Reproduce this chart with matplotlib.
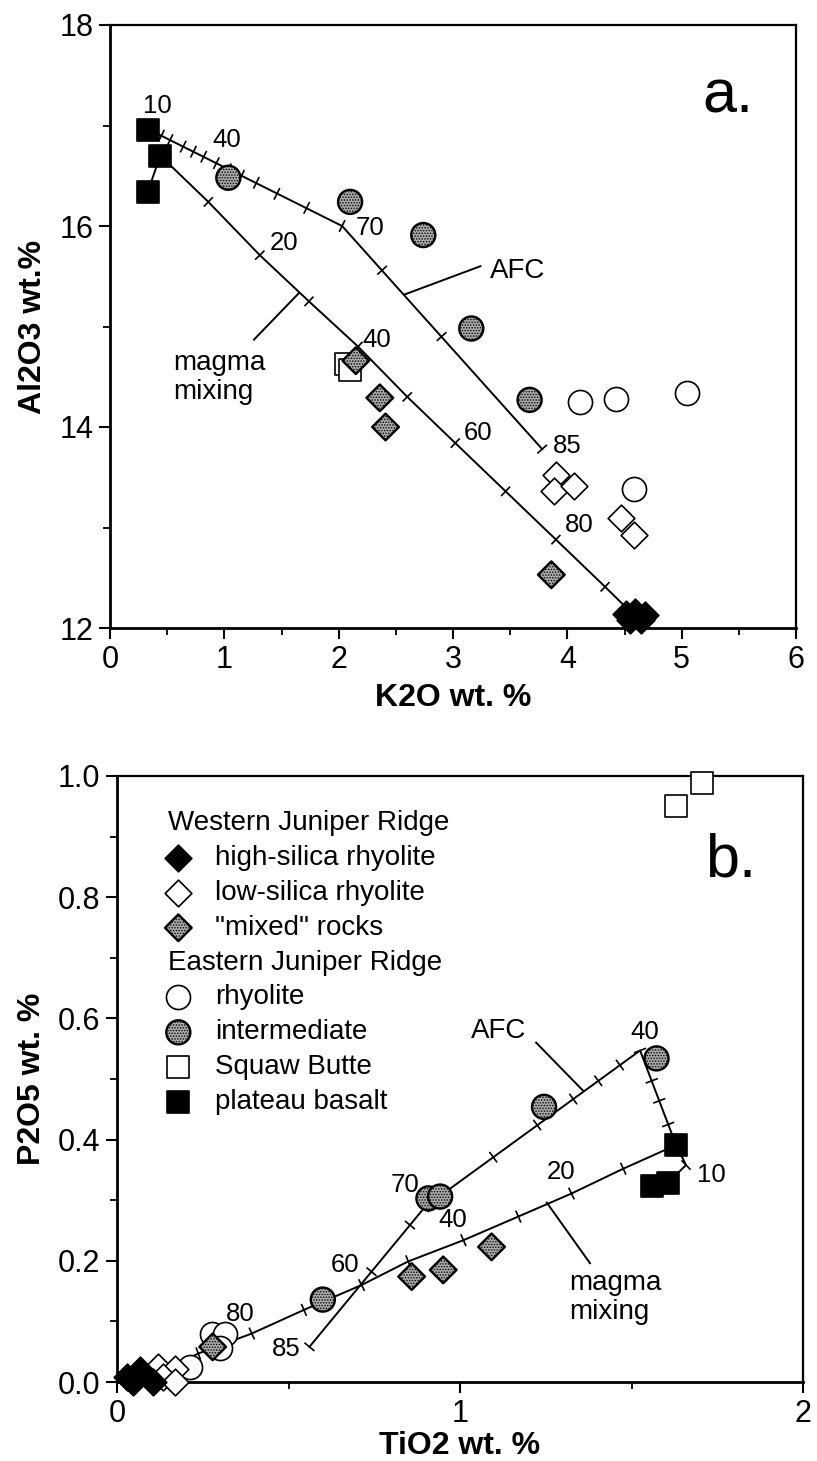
import matplotlib
matplotlib.use("Agg")
import matplotlib.pyplot as plt
import numpy as np
from matplotlib.ticker import MultipleLocator

plt.rcParams['font.family'] = ['Liberation Sans', 'DejaVu Sans']
plt.rcParams['hatch.color'] = 'black'
plt.rcParams['hatch.linewidth'] = 0.7

# ---------------- Panel a: K2O vs Al2O3 ----------------
hsr_k2o = [4.51, 4.59, 4.68, 4.55, 4.64]
hsr_al = [12.14, 12.16, 12.13, 12.08, 12.08]
lsr_k2o = [3.90, 3.88, 4.06, 4.47, 4.58]
lsr_al = [13.52, 13.36, 13.41, 13.09, 12.93]
mixed_k2o = [2.15, 2.36, 2.41, 3.86]
mixed_al = [14.66, 14.29, 14.00, 12.53]
rhy_k2o = [4.11, 4.43, 5.05, 4.58]
rhy_al = [14.25, 14.28, 14.34, 13.38]
int_k2o = [1.035, 2.10, 2.74, 3.16, 3.67]
int_al = [16.48, 16.24, 15.91, 14.98, 14.27]
sb_k2o = [2.06, 2.10]
sb_al = [14.63, 14.57]
bas_k2o = [0.335, 0.44, 0.33]
bas_al = [16.96, 16.70, 16.34]

# AFC model path and its increment marks
afc_a_k2o = [0.34, 2.03, 3.78]
afc_a_al = [16.96, 16.00, 13.78]
afc_a_tick_k2o = [0.45, 0.525, 0.64, 0.73, 0.82, 0.93, 1.035, 1.15, 1.28, 1.46, 1.72, 2.03, 2.38, 2.90, 3.78]
afc_a_tick_al = [16.90, 16.855, 16.79, 16.74, 16.69, 16.625, 16.565, 16.50, 16.43, 16.32, 16.18, 16.00, 15.56, 14.90, 13.78]
# magma mixing path (basalt -> high-silica rhyolite), marks every 10 %
mix_a_k2o = [0.44, 0.86, 1.31, 1.74, 2.17, 2.60, 3.02, 3.46, 3.90, 4.33, 4.50]
mix_a_al = [16.70, 16.24, 15.71, 15.25, 14.80, 14.30, 13.84, 13.36, 12.88, 12.41, 12.22]
link_a_k2o = [0.33, 0.44]
link_a_al = [16.34, 16.70]

afc_a_labels = ['10', '40', '70', '85']
afc_a_label_k2o = [0.41, 1.02, 2.27, 4.00]
afc_a_label_al = [17.19, 16.86, 15.98, 13.81]
mix_a_labels = ['20', '40', '60', '80']
mix_a_label_k2o = [1.52, 2.33, 3.22, 4.10]
mix_a_label_al = [15.83, 14.87, 13.94, 13.02]

# ---------------- Panel b: TiO2 vs P2O5 ----------------
hsr_ti = [0.028, 0.067, 0.047, 0.106]
hsr_p = [0.009, 0.020, 0.0, 0.0]
lsr_ti = [0.120, 0.169, 0.135, 0.169]
lsr_p = [0.025, 0.021, 0.008, 0.0]
mixed_ti = [0.279, 0.859, 0.951, 1.092]
mixed_p = [0.058, 0.174, 0.185, 0.223]
rhy_ti = [0.276, 0.315, 0.300, 0.213]
rhy_p = [0.080, 0.080, 0.056, 0.025]
int_ti = [1.573, 1.245, 0.908, 0.942, 0.600]
int_p = [0.534, 0.454, 0.303, 0.306, 0.136]
sb_ti = [1.629, 1.706]
sb_p = [0.950, 0.989]
bas_ti = [1.630, 1.559, 1.605]
bas_p = [0.391, 0.324, 0.328]

afc_b_ti = [1.605, 1.659, 1.630, 1.525, 0.898, 0.561]
afc_b_p = [0.328, 0.358, 0.391, 0.547, 0.289, 0.058]
afc_b_tick_ti = [1.659, 1.607, 1.581, 1.559, 1.525, 1.466, 1.403, 1.330, 1.225, 1.097, 0.898, 0.854, 0.742, 0.561]
afc_b_tick_p = [0.358, 0.425, 0.464, 0.497, 0.547, 0.523, 0.497, 0.467, 0.424, 0.371, 0.289, 0.259, 0.182, 0.058]
mix_b_ti = [1.630, 1.476, 1.325, 1.170, 1.010, 0.849, 0.713, 0.545, 0.393, 0.237, 0.100]
mix_b_p = [0.391, 0.352, 0.311, 0.273, 0.234, 0.199, 0.160, 0.119, 0.080, 0.047, 0.010]

afc_b_labels = ['10', '40', '70', '85']
afc_b_label_ti = [1.734, 1.539, 0.840, 0.492]
afc_b_label_p = [0.342, 0.578, 0.325, 0.054]
mix_b_labels = ['20', '40', '60', '80']
mix_b_label_ti = [1.296, 0.980, 0.665, 0.359]
mix_b_label_p = [0.347, 0.268, 0.193, 0.113]

STIPPLE = '#ababab'
STYLES = {
    'hsr': dict(marker='D', s=185, facecolor='black', edgecolor='black', linewidths=1.2),
    'lsr': dict(marker='D', s=185, facecolor='white', edgecolor='black', linewidths=1.2),
    'mixed': dict(marker='D', s=185, facecolor=STIPPLE, edgecolor='black', linewidths=1.7, hatch='......'),
    'rhy': dict(marker='o', s=300, facecolor='white', edgecolor='black', linewidths=1.2),
    'int': dict(marker='o', s=300, facecolor=STIPPLE, edgecolor='black', linewidths=1.7, hatch='......'),
    'sb': dict(marker='s', s=235, facecolor='white', edgecolor='black', linewidths=1.2),
    'bas': dict(marker='s', s=235, facecolor='black', edgecolor='black', linewidths=1.2),
}

NUM_FS = 18.5
TEXT_FS = 20
TICK_FS = 22
LABEL_FS = 23


def mark_curve(ax, cx, cy, tx, ty, half=6.5):
    """Short cross-marks perpendicular to a model path."""
    T = ax.transData
    inv = T.inverted()
    pts = T.transform(np.column_stack([cx, cy]))
    for x, y in zip(tx, ty):
        p = T.transform((x, y))
        best = None
        for a, b in zip(pts[:-1], pts[1:]):
            d = b - a
            t = np.clip(np.dot(p - a, d) / np.dot(d, d), 0, 1)
            dist = np.linalg.norm(a + t * d - p)
            if best is None or dist < best[0]:
                best = (dist, d)
        d = best[1] / np.linalg.norm(best[1])
        n = np.array([-d[1], d[0]])
        ends = inv.transform(np.vstack([p - n * half, p + n * half]))
        ax.plot(ends[:, 0], ends[:, 1], color='black', lw=1.2,
                solid_capstyle='butt', zorder=2)


def style_axes(ax):
    for side in ['left', 'bottom']:
        ax.spines[side].set_linewidth(2.0)
    for side in ['top', 'right']:
        ax.spines[side].set_linewidth(1.6)
    ax.tick_params(which='major', direction='out', length=8, width=1.5,
                   labelsize=TICK_FS, pad=4, top=False, right=False)
    ax.tick_params(which='minor', direction='out', length=5, width=1.3,
                   top=False, right=False)


fig = plt.figure(figsize=(8.17, 14.61), dpi=100)
ax_a = fig.add_axes([110 / 817, 833 / 1461, 686 / 817, 603 / 1461])
ax_b = fig.add_axes([117 / 817, 79 / 1461, 686 / 817, 606 / 1461])

# ---- panel a ----
ax_a.set_xlim(0, 6)
ax_a.set_ylim(12, 18)
ax_a.xaxis.set_major_locator(MultipleLocator(1))
ax_a.xaxis.set_minor_locator(MultipleLocator(0.5))
ax_a.yaxis.set_major_locator(MultipleLocator(2))
ax_a.yaxis.set_minor_locator(MultipleLocator(1))
style_axes(ax_a)

ax_a.plot(afc_a_k2o, afc_a_al, color='black', lw=1.4, zorder=2)
ax_a.plot(mix_a_k2o, mix_a_al, color='black', lw=1.4, zorder=2)
ax_a.plot(link_a_k2o, link_a_al, color='black', lw=1.4, zorder=2)
mark_curve(ax_a, afc_a_k2o, afc_a_al, afc_a_tick_k2o, afc_a_tick_al)
mark_curve(ax_a, mix_a_k2o, mix_a_al, mix_a_k2o[1:-1], mix_a_al[1:-1])

for key, xs, ys in [('sb', sb_k2o, sb_al), ('lsr', lsr_k2o, lsr_al),
                    ('rhy', rhy_k2o, rhy_al), ('int', int_k2o, int_al),
                    ('mixed', mixed_k2o, mixed_al), ('bas', bas_k2o, bas_al),
                    ('hsr', hsr_k2o, hsr_al)]:
    ax_a.scatter(xs, ys, zorder=4, clip_on=False, **STYLES[key])

for t, x, y in zip(afc_a_labels + mix_a_labels,
                   afc_a_label_k2o + mix_a_label_k2o,
                   afc_a_label_al + mix_a_label_al):
    ax_a.text(x, y, t, fontsize=NUM_FS, ha='center', va='center', zorder=5)

ax_a.text(3.325, 15.55, 'AFC', fontsize=TEXT_FS, ha='left', va='center')
ax_a.plot([3.24, 2.58], [15.60, 15.32], color='black', lw=1.4)
ax_a.text(0.55, 14.49, 'magma\nmixing', fontsize=TEXT_FS, ha='left', va='center',
          linespacing=1.15)
ax_a.plot([1.26, 1.65], [14.87, 15.33], color='black', lw=1.4)
ax_a.text(5.18, 17.13, 'a.', fontsize=44, ha='left', va='baseline')

ax_a.set_xlabel('K2O wt. %', fontsize=LABEL_FS, fontweight='bold', labelpad=6)
ax_a.set_ylabel('Al2O3 wt.%', fontsize=LABEL_FS, fontweight='bold', labelpad=8)

# ---- panel b ----
ax_b.set_xlim(0, 2)
ax_b.set_ylim(0, 1.0)
ax_b.xaxis.set_major_locator(MultipleLocator(1))
ax_b.xaxis.set_minor_locator(MultipleLocator(0.5))
ax_b.yaxis.set_major_locator(MultipleLocator(0.2))
ax_b.yaxis.set_minor_locator(MultipleLocator(0.1))
ax_b.yaxis.set_major_formatter(plt.FuncFormatter(lambda v, p: f'{v:.1f}'))
style_axes(ax_b)

ax_b.plot(afc_b_ti, afc_b_p, color='black', lw=1.4, zorder=2)
ax_b.plot(mix_b_ti, mix_b_p, color='black', lw=1.4, zorder=2)
mark_curve(ax_b, afc_b_ti, afc_b_p, afc_b_tick_ti, afc_b_tick_p)
mark_curve(ax_b, mix_b_ti, mix_b_p, mix_b_ti[1:-1], mix_b_p[1:-1])

for key, xs, ys in [('sb', sb_ti, sb_p), ('rhy', rhy_ti, rhy_p),
                    ('lsr', lsr_ti, lsr_p), ('int', int_ti, int_p),
                    ('mixed', mixed_ti, mixed_p), ('bas', bas_ti, bas_p),
                    ('hsr', hsr_ti, hsr_p)]:
    ax_b.scatter(xs, ys, zorder=4, clip_on=False, **STYLES[key])

for t, x, y in zip(afc_b_labels + mix_b_labels,
                   afc_b_label_ti + mix_b_label_ti,
                   afc_b_label_p + mix_b_label_p):
    ax_b.text(x, y, t, fontsize=NUM_FS, ha='center', va='center', zorder=5)

ax_b.text(1.114, 0.579, 'AFC', fontsize=TEXT_FS, ha='center', va='center')
ax_b.plot([1.222, 1.36], [0.560, 0.480], color='black', lw=1.4)
ax_b.text(1.318, 0.140, 'magma\nmixing', fontsize=TEXT_FS, ha='left', va='center',
          linespacing=1.15)
ax_b.plot([1.379, 1.253], [0.196, 0.296], color='black', lw=1.4)
ax_b.text(1.714, 0.834, 'b.', fontsize=44, ha='left', va='baseline')

# legend drawn as a symbol key in the upper left
legend_rows = [
    (None, 'Western Juniper Ridge'),
    ('hsr', 'high-silica rhyolite'),
    ('lsr', 'low-silica rhyolite'),
    ('mixed', '"mixed" rocks'),
    (None, 'Eastern Juniper Ridge'),
    ('rhy', 'rhyolite'),
    ('int', 'intermediate'),
    ('sb', 'Squaw Butte'),
    ('bas', 'plateau basalt'),
]
row_y = 0.922
for key, label in legend_rows:
    if key is None:
        ax_b.text(0.0748, row_y, label, fontsize=TEXT_FS, ha='left', va='center',
                  transform=ax_b.transAxes)
    else:
        ax_b.scatter([0.0894], [row_y], transform=ax_b.transAxes, clip_on=False,
                     zorder=4, **STYLES[key])
        ax_b.text(0.1429, row_y, label, fontsize=TEXT_FS, ha='left', va='center',
                  transform=ax_b.transAxes)
    row_y -= 0.0575

ax_b.set_xlabel('TiO2 wt. %', fontsize=LABEL_FS, fontweight='bold', labelpad=2)
ax_b.set_ylabel('P2O5 wt. %', fontsize=LABEL_FS, fontweight='bold', labelpad=8)

fig.savefig('out.png', dpi=100)
